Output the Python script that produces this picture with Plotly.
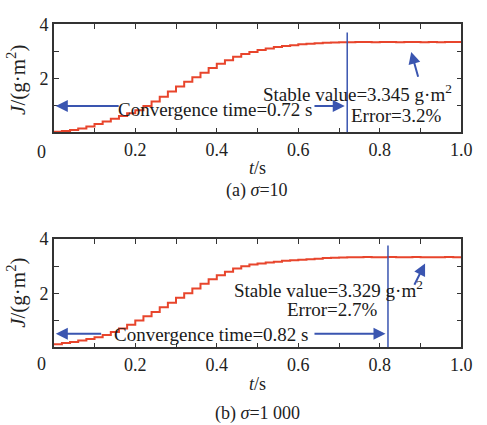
import plotly.graph_objects as go

# ---- data ----
t = [0.00, 0.02, 0.04, 0.06, 0.08, 0.10, 0.12, 0.14, 0.16, 0.18,
     0.20, 0.22, 0.24, 0.26, 0.28, 0.30, 0.32, 0.34, 0.36, 0.38,
     0.40, 0.42, 0.44, 0.46, 0.48, 0.50, 0.52, 0.54, 0.56, 0.58,
     0.60, 0.62, 0.64, 0.66, 0.68, 0.70, 0.72, 0.74, 0.76, 0.78,
     0.80, 0.82, 0.84, 0.86, 0.88, 0.90, 0.92, 0.94, 0.96, 0.98, 1.00]

J_a = [0.02, 0.05, 0.09, 0.14, 0.22, 0.31, 0.40, 0.50, 0.61, 0.71,
       0.82, 0.98, 1.14, 1.32, 1.51, 1.70, 1.87, 2.04, 2.21, 2.38,
       2.54, 2.67, 2.80, 2.90, 2.98, 3.05, 3.11, 3.16, 3.20, 3.23,
       3.26, 3.28, 3.30, 3.32, 3.33, 3.34, 3.34, 3.35, 3.35, 3.34,
       3.35, 3.35, 3.34, 3.35, 3.35, 3.34, 3.35, 3.34, 3.35, 3.35, 3.34]

J_b = [0.12, 0.16, 0.20, 0.25, 0.31, 0.37, 0.46, 0.57, 0.70, 0.84,
       0.99, 1.15, 1.31, 1.48, 1.65, 1.83, 2.00, 2.18, 2.35, 2.52,
       2.67, 2.80, 2.92, 3.00, 3.06, 3.10, 3.14, 3.17, 3.20, 3.22,
       3.24, 3.26, 3.28, 3.30, 3.31, 3.32, 3.33, 3.33, 3.34, 3.33,
       3.33, 3.34, 3.33, 3.33, 3.34, 3.33, 3.33, 3.33, 3.34, 3.33, 3.33]

conv_time_a = 0.72
conv_time_b = 0.82
stable_a = "3.345"
stable_b = "3.329"
error_a = "3.2%"
error_b = "2.7%"

x_tickvals = [0.0, 0.1, 0.2, 0.3, 0.4, 0.5, 0.6, 0.7, 0.8, 0.9, 1.0]
x_ticktext = ["", "", "0.2", "", "0.4", "", "0.6", "", "0.8", "", "1.0"]
y_tickvals = [0, 1, 2, 3, 4]
y_ticktext = ["", "", "2", "", "4"]

# ---- style ----
W, H = 487, 425
RED = "#e8452c"
BLUE = "#3a55b0"
AX = "#333333"
FONT = "Liberation Serif"

def px(x):
    return x / W

def py(y):
    return 1 - y / H

fig = go.Figure()
fig.add_trace(go.Scatter(x=t, y=J_a, mode="lines", xaxis="x", yaxis="y",
                         line=dict(color=RED, width=2, shape="hv"), showlegend=False))
fig.add_trace(go.Scatter(x=t, y=J_b, mode="lines", xaxis="x2", yaxis="y2",
                         line=dict(color=RED, width=2, shape="hv"), showlegend=False))

xax = dict(range=[0, 1], tickvals=x_tickvals, ticktext=x_ticktext, ticks="inside",
           ticklen=5, tickcolor=AX, showline=True, linecolor=AX, linewidth=1.5,
           mirror="allticks", showgrid=False, zeroline=False,
           tickfont=dict(family=FONT, size=18, color="#222"), domain=[px(55), px(472)])
yax = dict(range=[0, 4], tickvals=y_tickvals, ticktext=y_ticktext, ticks="inside",
           ticklen=5, tickcolor=AX, showline=True, linecolor=AX, linewidth=1.5,
           mirror="allticks", showgrid=False, zeroline=False,
           tickfont=dict(family=FONT, size=18, color="#222"))

fig.update_layout(
    width=W, height=H, margin=dict(l=0, r=0, t=0, b=0),
    paper_bgcolor="white", plot_bgcolor="white",
    xaxis=dict(xax, anchor="y"),
    yaxis=dict(yax, anchor="x", domain=[py(125.3), py(14.7)]),
    xaxis2=dict(xax, anchor="y2"),
    yaxis2=dict(yax, anchor="x2", domain=[py(345.5), py(234.7)]),
)

ann = []
tf = dict(family=FONT, size=19, color="#1a1a1a")

def panel(xr, yr, tc, J_arrow, J_text, stable, err, st_xy, er_xy, arr_tail, arr_head,
          left_end, right_start, text_x, v_top):
    # horizontal arrows
    ann.append(dict(x=0.005, y=J_arrow, ax=left_end, ay=J_arrow, xref=xr, yref=yr,
                    axref=xr, ayref=yr, text="", showarrow=True, arrowhead=2,
                    arrowsize=1.2, arrowwidth=2, arrowcolor=BLUE))
    ann.append(dict(x=tc - 0.006, y=J_arrow, ax=right_start, ay=J_arrow, xref=xr, yref=yr,
                    axref=xr, ayref=yr, text="", showarrow=True, arrowhead=2,
                    arrowsize=1.2, arrowwidth=2, arrowcolor=BLUE))
    ann.append(dict(x=text_x, y=J_text, xref=xr, yref=yr, showarrow=False,
                    xanchor="center", yanchor="middle",
                    text=f"Convergence time={tc} s", font=tf))
    ann.append(dict(x=st_xy[0], y=st_xy[1], xref=xr, yref=yr, showarrow=False,
                    xanchor="center", yanchor="middle",
                    text=f"Stable value={stable} g·m<sup>2</sup>", font=tf))
    ann.append(dict(x=er_xy[0], y=er_xy[1], xref=xr, yref=yr, showarrow=False,
                    xanchor="center", yanchor="middle",
                    text=f"Error={err}", font=tf))
    ann.append(dict(x=arr_head[0], y=arr_head[1], ax=arr_tail[0], ay=arr_tail[1],
                    xref=xr, yref=yr, axref=xr, ayref=yr, text="", showarrow=True,
                    arrowhead=2, arrowsize=1.2, arrowwidth=2, arrowcolor=BLUE))
    fig.add_shape(type="line", xref=xr, yref=yr, x0=tc, x1=tc, y0=0, y1=v_top,
                  line=dict(color=BLUE, width=1.5))

panel("x", "y", conv_time_a, 0.98, 0.86, stable_a, error_a, (0.745, 1.45), (0.84, 0.64),
      (0.895, 2.0), (0.877, 2.98), 0.163, 0.636, 0.398, 3.70)
panel("x2", "y2", conv_time_b, 0.50, 0.47, stable_b, error_b, (0.675, 2.16), (0.683, 1.41),
      (0.883, 2.26), (0.911, 3.10), 0.12, 0.636, 0.388, 3.77)

# zero x labels, axis titles, captions
for ylab, yx, ycap, cap, ytitle in [(145, 162, 185, "(a) <i>σ</i>=10", 72),
                                     (363, 383, 413, "(b) <i>σ</i>=1 000", 290)]:
    ann.append(dict(x=px(42), y=py(ylab), xref="paper", yref="paper", showarrow=False,
                    xanchor="center", yanchor="middle", text="0",
                    font=dict(family=FONT, size=18, color="#222")))
    ann.append(dict(x=px(263), y=py(yx), xref="paper", yref="paper", showarrow=False,
                    xanchor="center", yanchor="middle", text="<i>t</i>/s",
                    font=dict(family=FONT, size=18, color="#222")))
    ann.append(dict(x=px(263), y=py(ycap), xref="paper", yref="paper", showarrow=False,
                    xanchor="center", yanchor="middle", text=cap,
                    font=dict(family=FONT, size=18, color="#222")))
    ann.append(dict(x=px(17), y=py(ytitle), xref="paper", yref="paper", showarrow=False,
                    xanchor="center", yanchor="middle",
                    text="<i>J</i>/(g·m<sup>2</sup>)", textangle=-90,
                    font=dict(family=FONT, size=21, color="#222")))

fig.update_layout(annotations=ann)
fig.write_html("out.html")
